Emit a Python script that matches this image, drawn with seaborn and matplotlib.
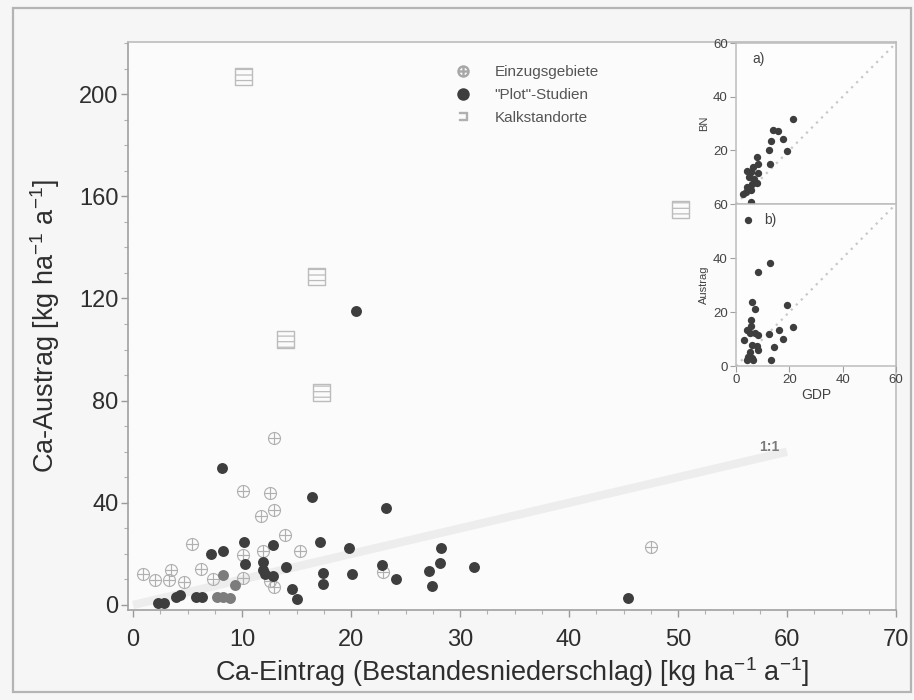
import matplotlib
matplotlib.use("Agg")
import matplotlib.pyplot as plt
import seaborn as sns
import pandas as pd
from matplotlib.patches import Rectangle
from matplotlib.lines import Line2D
from matplotlib.ticker import MultipleLocator

sns.set_theme(style="ticks")
plt.rcParams['font.family'] = ['Liberation Sans', 'DejaVu Sans']
plt.rcParams['mathtext.fontset'] = 'custom'
plt.rcParams['mathtext.rm'] = 'Liberation Sans'
plt.rcParams['mathtext.it'] = 'Liberation Sans:italic'
plt.rcParams['mathtext.fallback'] = 'stixsans'
plt.rcParams['hatch.linewidth'] = 0.9

# --- Einzugsgebiete (catchment studies) ---
ez_x = [12.9, 10.1, 12.6, 12.9, 11.7, 13.9, 5.4, 15.3, 11.9, 10.1, 3.5, 6.2,
        0.9, 2.0, 3.3, 4.7, 7.3, 10.1, 12.6, 12.9, 22.9, 47.5]
ez_y = [65.2, 44.6, 43.7, 37.2, 35.0, 27.4, 23.9, 21.1, 21.1, 19.4, 13.6, 14.1,
        12.3, 9.8, 9.6, 9.1, 10.2, 10.4, 9.4, 7.0, 13.0, 22.6]

# --- "Plot"-Studien ---
pl_x = [20.5, 8.2, 16.4, 23.2, 10.2, 12.8, 17.2, 19.8, 28.3, 8.3, 7.2, 10.3,
        11.9, 11.9, 12.1, 12.8, 14.0, 28.2, 22.8, 31.3, 17.4, 20.1, 27.2, 24.1,
        17.4, 27.4, 14.6, 15.0, 2.3, 2.8, 3.9, 4.3, 5.8, 6.3, 45.4]
pl_y = [115.2, 53.5, 42.1, 38.1, 24.5, 23.6, 24.6, 22.3, 22.3, 21.3, 20.1, 16.1,
        16.9, 13.7, 12.1, 11.5, 14.7, 16.6, 15.6, 15.0, 12.5, 12.1, 13.4, 10.2,
        8.2, 7.4, 6.1, 2.5, 0.8, 0.8, 3.0, 3.9, 3.0, 3.3, 2.9]

# lighter grey plot sites
pl2_x = [7.7, 8.3, 8.9, 8.3, 9.4]
pl2_y = [3.2, 3.2, 2.7, 11.9, 7.8]

# --- Kalkstandorte (calcareous sites) ---
ka_x = [10.1, 16.8, 14.0, 17.3, 50.2]
ka_y = [206.8, 128.5, 104.0, 83.1, 155.0]

# --- inset a): BN vs GDP ---
a_gdp = [21.4, 13.9, 15.6, 13.1, 17.6, 12.3, 19.1, 12.9, 7.8, 8.4, 6.5, 4.0,
         5.5, 8.4, 5.0, 6.8, 7.8, 5.9, 4.3, 5.5, 2.8, 3.8, 5.7]
a_bn = [31.6, 27.6, 27.3, 23.6, 24.2, 20.1, 19.9, 14.9, 17.6, 14.9, 13.9, 12.4,
        12.0, 11.7, 9.9, 9.2, 7.7, 7.5, 6.5, 5.2, 3.7, 4.6, 0.9]

# --- inset b): Austrag vs GDP ---
b_gdp = [4.6, 12.9, 8.4, 6.0, 7.2, 19.2, 5.7, 21.2, 16.0, 12.3, 17.6, 14.1,
         13.1, 4.3, 5.3, 7.2, 8.4, 3.0, 5.9, 7.8, 8.4, 5.3, 4.6, 5.9, 4.0, 6.5, 5.5]
b_aus = [54.0, 38.1, 34.9, 23.6, 21.1, 22.5, 16.9, 14.4, 13.2, 11.8, 10.1, 7.1,
         2.2, 13.4, 12.2, 12.2, 11.6, 9.7, 7.8, 7.5, 6.0, 5.3, 3.5, 2.9, 2.2, 2.2, 14.9]

legend_labels = ["Einzugsgebiete", '"Plot"-Studien', "Kalkstandorte"]

W, H = 914, 700
fig = plt.figure(figsize=(W / 100, H / 100), dpi=100)
fig.patch.set_facecolor('#f6f6f6')
fig.patches.append(Rectangle((13 / W, 1 - 692 / H), (911 - 13) / W, (692 - 8) / H,
                             transform=fig.transFigure, fill=False,
                             ec='#b4b4b4', lw=1.6, zorder=0))

def fx(px):
    return px / W

def fy(py):
    return 1 - py / H

ax = fig.add_axes([fx(128), fy(610), (896 - 128) / W, (610 - 42) / H])
ax.set_facecolor('#fbfbfb')

# 1:1 line
ax.plot([0, 60], [0, 60], color='#ededed', lw=6, solid_capstyle='butt', zorder=0)
ax.text(58.4, 62, "1:1", fontsize=10, color='#7a7a7a', ha='center', va='center',
        fontweight='bold')

ez = pd.DataFrame({"x": ez_x, "y": ez_y})
pl = pd.DataFrame({"x": pl_x, "y": pl_y})
pl2 = pd.DataFrame({"x": pl2_x, "y": pl2_y})
ka = pd.DataFrame({"x": ka_x, "y": ka_y})

sns.scatterplot(data=ez, x="x", y="y", ax=ax, marker=r'$\oplus$', s=90,
                color='#b0b0b0', linewidth=0, zorder=2)
sns.scatterplot(data=ka, x="x", y="y", ax=ax, marker='s', s=150,
                color='#bcbcbc', linewidth=1.0, zorder=2)
ka_coll = ax.collections[-1]
ka_coll.set_facecolor('none')
ka_coll.set_edgecolor('#bcbcbc')
ka_coll.set_hatch('---')
sns.scatterplot(data=pl2, x="x", y="y", ax=ax, marker='o', s=62,
                color='#7c7c7c', linewidth=0, zorder=3)
sns.scatterplot(data=pl, x="x", y="y", ax=ax, marker='o', s=62,
                color='#3e3e3e', linewidth=0, zorder=4)

ax.set_xlim(-0.46, 70.0)
ax.set_ylim(-1.96, 220.4)
ax.xaxis.set_major_locator(MultipleLocator(10))
ax.xaxis.set_minor_locator(MultipleLocator(2.5))
ax.yaxis.set_major_locator(MultipleLocator(40))
ax.yaxis.set_minor_locator(MultipleLocator(10))
ax.tick_params(which='major', direction='out', length=5, width=1, color='#9a9a9a',
               labelsize=17, labelcolor='#2e2e2e')
ax.tick_params(axis='y', which='major', pad=2)
ax.tick_params(axis='x', which='major', pad=9)
ax.tick_params(which='minor', direction='out', length=3, width=0.8, color='#b0b0b0')
for s in ax.spines.values():
    s.set_color('#bdbdbd')
    s.set_linewidth(1.2)
ax.spines['left'].set_color('#a0a0a0')
ax.spines['bottom'].set_color('#a0a0a0')

ax.set_xlabel(r'Ca-Eintrag (Bestandesniederschlag) [kg ha$^{\mathregular{-1}}$ a$^{\mathregular{-1}}$]',
              fontsize=19.5, color='#2e2e2e', labelpad=3)
ax.set_ylabel(r'Ca-Austrag [kg ha$^{\mathregular{-1}}$ a$^{\mathregular{-1}}$]',
              fontsize=19.5, color='#2e2e2e', labelpad=12)

handles = [
    Line2D([], [], ls='none', marker=r'$\oplus$', ms=8, color='#a8a8a8'),
    Line2D([], [], ls='none', marker='o', ms=9, color='#3e3e3e', mec='none'),
    Line2D([], [], ls='none', marker=r'$\sqsupset$', ms=6, color='#b0b0b0'),
]
leg = ax.legend(handles, legend_labels, loc='upper left',
                bbox_to_anchor=((455 - 128) / (896 - 128), 1 - (65 - 42) / (610 - 42)),
                frameon=False, fontsize=11, handletextpad=1.6, labelspacing=0.58,
                handlelength=1.0, borderpad=0, borderaxespad=0)
for t in leg.get_texts():
    t.set_color('#555555')

# --- insets a) and b) ---
ax_a = fig.add_axes([fx(736), fy(204), (896 - 736) / W, (204 - 43) / H])
ax_b = fig.add_axes([fx(736), fy(366), (896 - 736) / W, (366 - 204) / H])

for a in (ax_a, ax_b):
    a.set_facecolor('#fdfdfd')
    a.plot([0, 60], [0, 60], color='#c8c8c8', lw=1.6, ls=(0, (1, 2.2)), zorder=1)
    a.set_xlim(0, 60)
    a.set_ylim(0, 60)
    for s in a.spines.values():
        s.set_color('#bdbdbd')
        s.set_linewidth(1.1)
    a.tick_params(direction='out', length=4, width=0.8, color='#a0a0a0',
                  labelsize=9.5, labelcolor='#444444', pad=2)
    a.set_xlabel('')
    a.set_ylabel('')

sns.scatterplot(x=a_gdp, y=a_bn, ax=ax_a, s=28, color='#3e3e3e', linewidth=0, zorder=3)
sns.scatterplot(x=b_gdp, y=b_aus, ax=ax_b, s=28, color='#3e3e3e', linewidth=0, zorder=3)

ax_a.set_xticks([])
ax_a.set_yticks([20, 40, 60])
ax_a.set_ylabel('BN', fontsize=8, color='#444444', labelpad=3)
ax_a.text(6, 54, 'a)', fontsize=10, color='#444444', va='center')

ax_b.set_xticks([0, 20, 40, 60])
ax_b.set_yticks([0, 20, 40, 60])
ax_b.set_xlabel('GDP', fontsize=10, color='#444444', labelpad=1)
ax_b.set_ylabel('Austrag', fontsize=8, color='#444444', labelpad=3)
ax_b.text(10.5, 54, 'b)', fontsize=10, color='#444444', va='center')

fig.savefig("out.png", dpi=100, facecolor=fig.get_facecolor())
